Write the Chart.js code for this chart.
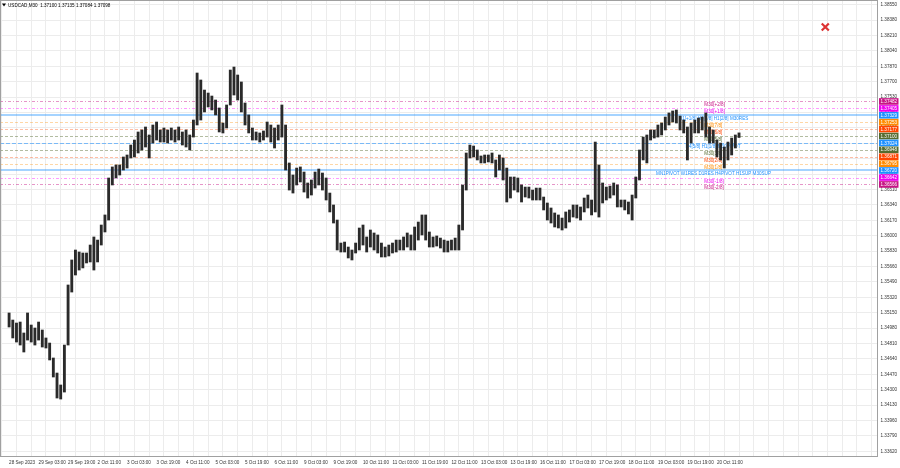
<!DOCTYPE html>
<html>
<head>
<meta charset="utf-8">
<script src="https://cdn.jsdelivr.net/npm/chart.js@4.4.0/dist/chart.umd.min.js"></script>
<style>
  html, body { margin: 0; padding: 0; background: #fff; }
  #wrap { width: 900px; height: 468px; position: relative; }
</style>
</head>
<body>
<div id="wrap"><canvas id="chart"></canvas></div>
<script>
// USDCAD M30, one bar per 2 hours (low/high)
const symbolInfo = 'USDCAD,M30  1.37100 1.37135 1.37084 1.37098';

const xLabels = ['28 Sep 2023', '29 Sep 03:00', '29 Sep 19:00', '2 Oct 11:00', '3 Oct 03:00', '3 Oct 19:00',
  '4 Oct 11:00', '5 Oct 03:00', '5 Oct 19:00', '6 Oct 11:00', '9 Oct 03:00', '9 Oct 19:00', '10 Oct 11:00',
  '11 Oct 03:00', '11 Oct 19:00', '12 Oct 11:00', '13 Oct 03:00', '13 Oct 19:00', '16 Oct 11:00',
  '17 Oct 03:00', '17 Oct 19:00', '18 Oct 11:00', '19 Oct 03:00', '19 Oct 19:00', '20 Oct 11:00'];

const yTicks = [1.33620, 1.33790, 1.33960, 1.34130, 1.34300, 1.34470, 1.34640, 1.34810, 1.34980, 1.35150,
  1.35320, 1.35490, 1.35660, 1.35830, 1.36000, 1.36170, 1.36340, 1.36510, 1.36680, 1.36850,
  1.37020, 1.37190, 1.37360, 1.37530, 1.37700, 1.37870, 1.38040, 1.38210, 1.38380, 1.38550];

const highs = [
  1.35147, 1.35069, 1.35036, 1.35047, 1.34926, 1.35147, 1.35014, 1.34981, 1.35047, 1.34959,
  1.34871, 1.34815, 1.34650, 1.34484, 1.34352, 1.34793, 1.35456, 1.35732, 1.35842, 1.35820,
  1.35809, 1.35809, 1.35897, 1.35986, 1.35952, 1.36118, 1.36229, 1.36637, 1.36759, 1.36781,
  1.36781, 1.36869, 1.36891, 1.37001, 1.37056, 1.37145, 1.37167, 1.37200, 1.37112, 1.37222,
  1.37255, 1.37167, 1.37189, 1.37167, 1.37189, 1.37167, 1.37200, 1.37145, 1.37167, 1.37112,
  1.37277, 1.37796, 1.37719, 1.37608, 1.37575, 1.37542, 1.37498, 1.37410, 1.37244, 1.37443,
  1.37829, 1.37862, 1.37774, 1.37697, 1.37465, 1.37333, 1.37189, 1.37145, 1.37134, 1.37156,
  1.37255, 1.37222, 1.37189, 1.37222, 1.37443, 1.37222, 1.36803, 1.36670, 1.36747, 1.36759,
  1.36703, 1.36582, 1.36615, 1.36703, 1.36736, 1.36692, 1.36637, 1.36471, 1.36339, 1.36173,
  1.35919, 1.35930, 1.35875, 1.35842, 1.35919, 1.36085, 1.36118, 1.35986, 1.36063, 1.36030,
  1.36008, 1.35919, 1.35875, 1.35897, 1.35919, 1.35952, 1.35952, 1.35986, 1.36030, 1.36008,
  1.36096, 1.36151, 1.36229, 1.36229, 1.36041, 1.35986, 1.35997, 1.35974, 1.35952, 1.35941,
  1.35952, 1.35974, 1.36118, 1.36560, 1.36913, 1.37001, 1.36990, 1.36946, 1.36880, 1.36891,
  1.36891, 1.36913, 1.36836, 1.36891, 1.36858, 1.36747, 1.36648, 1.36648, 1.36637, 1.36560,
  1.36537, 1.36537, 1.36504, 1.36526, 1.36526, 1.36427, 1.36361, 1.36306, 1.36251, 1.36229,
  1.36195, 1.36262, 1.36284, 1.36339, 1.36339, 1.36317, 1.36416, 1.36449, 1.36394, 1.37034,
  1.36781, 1.36582, 1.36537, 1.36548, 1.36582, 1.36560, 1.36394, 1.36394, 1.36372, 1.36449,
  1.36648, 1.36946, 1.37089, 1.37112, 1.37167, 1.37167, 1.37222, 1.37244, 1.37310, 1.37355,
  1.37377, 1.37388, 1.37321, 1.37277, 1.37200, 1.37244, 1.37277, 1.37299, 1.37310, 1.37355,
  1.37200, 1.37167, 1.37056, 1.37023, 1.36979, 1.37034, 1.37078, 1.37112, 1.37135];

const lows = [
  1.34992, 1.34871, 1.34826, 1.34793, 1.34716, 1.34848, 1.34826, 1.34793, 1.34848, 1.34771,
  1.34760, 1.34628, 1.34440, 1.34208, 1.34197, 1.34274, 1.34793, 1.35378, 1.35566, 1.35621,
  1.35644, 1.35699, 1.35710, 1.35621, 1.35710, 1.35897, 1.36041, 1.36173, 1.36560, 1.36637,
  1.36670, 1.36725, 1.36747, 1.36858, 1.36869, 1.36913, 1.36946, 1.36979, 1.36858, 1.37023,
  1.37056, 1.37034, 1.37034, 1.37023, 1.37056, 1.37034, 1.37056, 1.37001, 1.36979, 1.36946,
  1.37089, 1.37222, 1.37277, 1.37366, 1.37421, 1.37388, 1.37333, 1.37145, 1.37134, 1.37189,
  1.37443, 1.37553, 1.37498, 1.37366, 1.37222, 1.37134, 1.37056, 1.37056, 1.37034, 1.37056,
  1.37089, 1.37034, 1.36968, 1.37056, 1.37089, 1.36725, 1.36504, 1.36471, 1.36560, 1.36593,
  1.36482, 1.36416, 1.36449, 1.36526, 1.36560, 1.36504, 1.36394, 1.36262, 1.36140, 1.35842,
  1.35820, 1.35820, 1.35754, 1.35732, 1.35809, 1.35842, 1.35897, 1.35820, 1.35875, 1.35842,
  1.35809, 1.35765, 1.35765, 1.35776, 1.35809, 1.35820, 1.35842, 1.35842, 1.35875, 1.35842,
  1.35842, 1.35952, 1.36008, 1.35952, 1.35875, 1.35875, 1.35886, 1.35864, 1.35820, 1.35820,
  1.35842, 1.35842, 1.35842, 1.36063, 1.36504, 1.36858, 1.36869, 1.36836, 1.36803, 1.36803,
  1.36814, 1.36803, 1.36648, 1.36725, 1.36615, 1.36372, 1.36416, 1.36504, 1.36482, 1.36372,
  1.36427, 1.36416, 1.36394, 1.36394, 1.36394, 1.36284, 1.36173, 1.36140, 1.36096, 1.36085,
  1.36063, 1.36085, 1.36151, 1.36206, 1.36195, 1.36173, 1.36262, 1.36306, 1.36229, 1.36262,
  1.36206, 1.36361, 1.36394, 1.36416, 1.36449, 1.36317, 1.36317, 1.36284, 1.36240, 1.36173,
  1.36416, 1.36615, 1.36836, 1.36803, 1.37056, 1.37078, 1.37089, 1.37112, 1.37167, 1.37222,
  1.37255, 1.37244, 1.37167, 1.37134, 1.36836, 1.37023, 1.37134, 1.37134, 1.37167, 1.37089,
  1.37023, 1.37023, 1.36869, 1.36836, 1.36747, 1.36836, 1.36891, 1.36968, 1.37084];

// murrey levels
const levels = [1.37482, 1.37405, 1.37329, 1.37253, 1.37177, 1.37100, 1.37024,
  1.36948, 1.36871, 1.36795, 1.36720, 1.36642, 1.36566];
const levelNames = ['M30[+2/8]', 'M30[+1/8]', 'D1[+1/8] H4[6/8] H1[2/8] M30RES', 'M30[7/8]', 'M30[6/8]',
  'M30[5/8]', 'H4[5/8] H1[1/8] M30PIVOT', 'M30[3/8]', 'M30[2/8]', 'M30[1/8]',
  'MN1PIVOT W1RES D1RES H4PIVOT H1SUP M30SUP', 'M30[-1/8]', 'M30[-2/8]'];

const markX = [221.4];
const markY = [1.38304];

const FONT = "'Liberation Sans', Arial, sans-serif";
const FS = 4.6;

const violet = { c: '#c71585', line: 'rgba(199,21,133,0.45)', dash: [3, 2, 1, 2], w: 1 };
const magenta = { c: '#ee00ee', line: 'rgba(255,0,255,0.4)', dash: [3, 2, 1, 2], w: 1 };
const blueMain = { c: '#1e90ff', line: 'rgba(30,144,255,0.4)', dash: [], w: 2 };
const bluePiv = { c: '#1e90ff', line: 'rgba(30,144,255,0.55)', dash: [4, 2], w: 1 };
const orange = { c: '#ff8c00', line: 'rgba(255,140,0,0.35)', dash: [3, 2], w: 1 };
const orangeRed = { c: '#ff4500', line: 'rgba(255,69,0,0.35)', dash: [3, 2], w: 1 };
const olive = { c: '#556b2f', line: 'rgba(85,107,47,0.45)', dash: [3, 2], w: 1 };
const levelStyle = [violet, magenta, blueMain, orange, orangeRed, olive, bluePiv,
  olive, orangeRed, orange, blueMain, magenta, violet];
const levelTextAt = [188.6, 188.6, 181.7, 188.6, 188.6, 188.6, 183.5, 188.6, 188.6, 188.6, 175.5, 188.6, 188.6];

const levelsPlugin = {
  id: 'levels',
  beforeDatasetsDraw(chart) {
    const { ctx, chartArea: a, scales: { x, y } } = chart;
    ctx.save();
    ctx.beginPath();
    ctx.rect(a.left, a.top, a.right - a.left, a.bottom - a.top);
    ctx.clip();
    levels.forEach((v, i) => {
      const st = levelStyle[i];
      const py = Math.round(y.getPixelForValue(v)) + (st.w === 2 ? 0 : 0.5);
      ctx.strokeStyle = st.line;
      ctx.lineWidth = st.w;
      ctx.setLineDash(st.dash);
      ctx.beginPath();
      ctx.moveTo(a.left, py);
      ctx.lineTo(a.right, py);
      ctx.stroke();
      ctx.setLineDash([]);
      ctx.fillStyle = st.c;
      ctx.font = FS + 'px ' + FONT;
      ctx.textAlign = 'left';
      ctx.textBaseline = 'top';
      ctx.fillText(levelNames[i], x.getPixelForValue(levelTextAt[i]), py + 1);
    });
    ctx.restore();
  },
  afterDraw(chart) {
    const { ctx, chartArea: a, scales: { y } } = chart;
    ctx.save();
    // frame
    ctx.strokeStyle = '#a0a0a0';
    ctx.lineWidth = 1;
    ctx.strokeRect(a.left + 0.5, a.top + 0.5, a.right - a.left - 1, a.bottom - a.top - 1);
    // price tags
    ctx.font = FS + 'px ' + FONT;
    ctx.textAlign = 'left';
    ctx.textBaseline = 'middle';
    levels.forEach((v, i) => {
      const py = y.getPixelForValue(v);
      ctx.fillStyle = levelStyle[i].c;
      ctx.fillRect(a.right + 1, py - 3.3, 19.5, 6.6);
      ctx.fillStyle = '#fff';
      ctx.fillText(v.toFixed(5), a.right + 2.5, py + 0.3);
    });
    // header
    ctx.fillStyle = '#000';
    ctx.beginPath();
    ctx.moveTo(2, 3.5); ctx.lineTo(6, 3.5); ctx.lineTo(4, 6.5); ctx.closePath();
    ctx.fill();
    ctx.fillText(symbolInfo, 8, 5.3);
    ctx.restore();
  }
};

const bars = highs.map((h, i) => ({ x: i, y: [lows[i], h] }));

new Chart(document.getElementById('chart'), {
  data: {
    datasets: [{
      type: 'bar',
      data: bars,
      backgroundColor: '#2a2a2a',
      borderWidth: 0,
      barThickness: 2.2
    }, {
      type: 'scatter',
      data: markX.map((v, i) => ({ x: v, y: markY[i] })),
      pointStyle: 'crossRot',
      pointRadius: 5,
      borderColor: '#dd3333',
      borderWidth: 2.2
    }]
  },
  options: {
    responsive: true,
    maintainAspectRatio: false,
    animation: false,
    layout: { padding: 0, autoPadding: false },
    plugins: { legend: { display: false }, tooltip: { enabled: false } },
    scales: {
      x: {
        type: 'linear',
        min: -0.45,
        max: 233.68,
        afterBuildTicks(scale) {
          const t = [];
          for (let v = 0; v <= 232; v += 4) t.push({ value: v });
          scale.ticks = t;
        },
        afterFit(scale) {
          scale.height = 11;
          scale.paddingLeft = 0; scale.paddingRight = 0;
        },
        grid: { color: '#ececec', drawTicks: false },
        border: { display: false },
        ticks: {
          autoSkip: false, maxRotation: 0, minRotation: 0, align: 'start', padding: 3,
          color: '#333', font: { family: FONT, size: FS },
          callback: (v) => (v % 8 === 0 && xLabels[v / 8]) ? xLabels[v / 8] : ''
        }
      },
      y: {
        position: 'right',
        min: 1.33557,
        max: 1.38602,
        afterBuildTicks(scale) {
          scale.ticks = yTicks.map(v => ({ value: v }));
        },
        afterFit(scale) {
          scale.width = 22;
          scale.paddingTop = 0; scale.paddingBottom = 0;
        },
        grid: { color: '#ececec', drawTicks: false },
        border: { display: false },
        ticks: {
          padding: 2.5, color: '#333', font: { family: FONT, size: FS },
          callback: (v) => v.toFixed(5)
        }
      }
    }
  },
  plugins: [levelsPlugin]
});
</script>
</body>
</html>
